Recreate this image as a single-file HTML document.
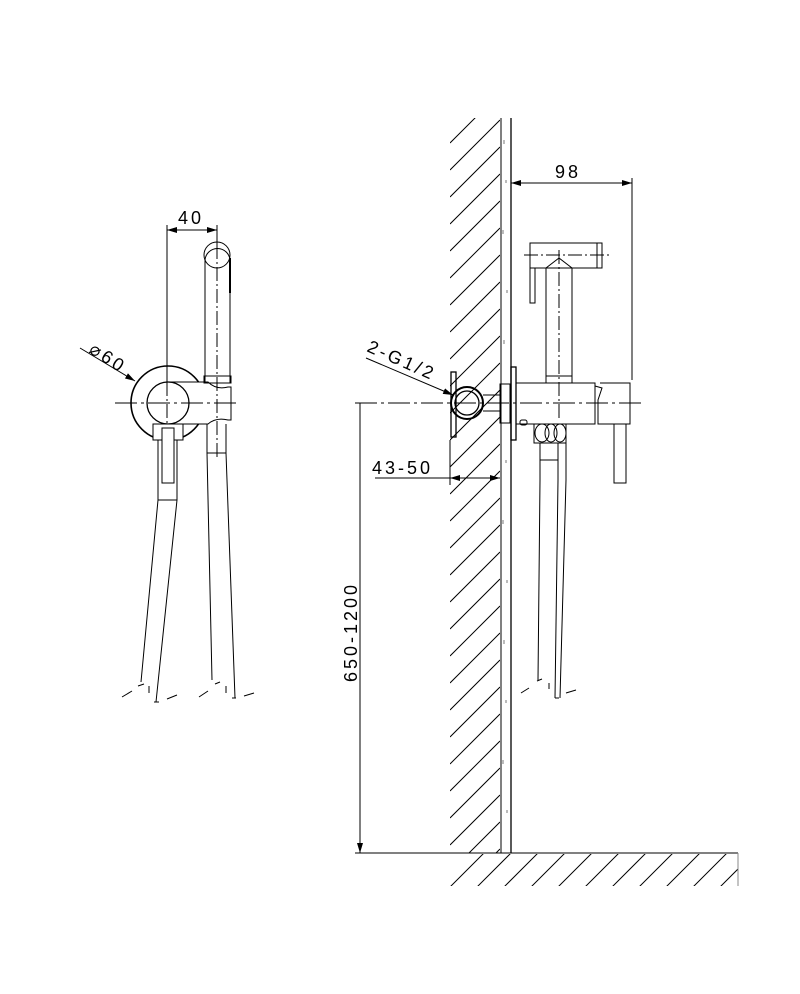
<!DOCTYPE html>
<html><head><meta charset="utf-8"><style>
html,body{margin:0;padding:0;background:#fff}
svg{display:block}
text{font-family:"Liberation Sans",sans-serif;font-size:18px;fill:#000;letter-spacing:3px}
</style></head><body>
<svg width="800" height="994" viewBox="0 0 800 994" xmlns="http://www.w3.org/2000/svg">
<defs>
<clipPath id="wallclip"><rect x="450" y="118" width="50" height="735"/></clipPath>
<clipPath id="floorclip"><rect x="450" y="854" width="288" height="32"/></clipPath>
<marker id="ar" markerWidth="10" markerHeight="6" refX="10" refY="3" orient="auto-start-reverse" markerUnits="userSpaceOnUse"><path d="M0,0 L10,3 L0,6 z" fill="#000"/></marker>
</defs>
<g fill="none" stroke="#000" stroke-width="1">
<g clip-path="url(#wallclip)">
<path d="M450,143 l50,-50 M450,170 l50,-50 M450,197 l50,-50 M450,224 l50,-50 M450,251 l50,-50 M450,278 l50,-50 M450,305 l50,-50 M450,332 l50,-50 M450,359 l50,-50 M450,386 l50,-50 M450,413 l50,-50 M450,440 l50,-50 M450,467 l50,-50 M450,494 l50,-50 M450,521 l50,-50 M450,548 l50,-50 M450,575 l50,-50 M450,602 l50,-50 M450,629 l50,-50 M450,656 l50,-50 M450,683 l50,-50 M450,710 l50,-50 M450,737 l50,-50 M450,764 l50,-50 M450,791 l50,-50 M450,818 l50,-50 M450,845 l50,-50 M450,872 l50,-50 M450,899 l50,-50"/>
</g>
<g clip-path="url(#floorclip)">
<path d="M450,887 l34,-34 M477,887 l34,-34 M504,887 l34,-34 M531,887 l34,-34 M558,887 l34,-34 M585,887 l34,-34 M612,887 l34,-34 M639,887 l34,-34 M666,887 l34,-34 M693,887 l34,-34 M720,887 l34,-34"/>
</g>
<line x1="501" y1="118" x2="501" y2="853"/>
<line x1="511" y1="118" x2="511" y2="853" stroke-width="1.3"/>
<path d="M504,140 v4 M506,180 v3 M503,230 v4 M507,290 v3 M504,340 v4 M506,460 v3 M503,520 v4 M507,580 v3 M504,640 v4 M506,700 v3 M503,760 v4 M507,810 v3" stroke="#777"/>
<line x1="355" y1="853" x2="738" y2="853"/>
<line x1="738" y1="853" x2="738" y2="886" stroke="#888"/>

<line x1="360" y1="403" x2="360" y2="853" marker-end="url(#ar)"/>
<line x1="355" y1="403" x2="645" y2="403" stroke-dasharray="22,4,3,4"/>
<line x1="375" y1="478" x2="450" y2="478"/>
<line x1="450" y1="478" x2="500" y2="478" marker-start="url(#ar)" marker-end="url(#ar)"/>
<line x1="450" y1="440" x2="450" y2="485"/>
<line x1="511" y1="183" x2="632" y2="183" marker-start="url(#ar)" marker-end="url(#ar)"/>
<line x1="632" y1="178" x2="632" y2="380"/>
<line x1="366" y1="358" x2="453" y2="395" marker-end="url(#ar)"/>

<rect x="451" y="372" width="5" height="65" stroke-width="1.3"/>
<circle cx="467" cy="403" r="16" stroke-width="2"/>
<circle cx="467" cy="403" r="12" stroke-width="1.3"/>
<path d="M483,395 h17 M483,411 h17"/>
<rect x="500" y="384" width="10" height="39"/>
<rect x="511" y="367" width="5" height="73" stroke-width="1.3"/>
<rect x="516" y="383" width="79" height="41"/>
<path d="M595,386 l7,2 l-4,12 v24 h32 v-41 h-30"/>
<rect x="614" y="424" width="12" height="59"/>
<rect x="520" y="420" width="7" height="5" rx="2"/>
<rect x="546" y="376" width="26" height="7"/>
<path d="M546,376 V268 l13,-10 l13,10 V376"/>
<rect x="530" y="243" width="72" height="25"/>
<rect x="597" y="243" width="5" height="25"/>
<rect x="530" y="268" width="5" height="35"/>
<line x1="559" y1="250" x2="559" y2="420" stroke-dasharray="14,3,2,3"/>
<line x1="524" y1="255" x2="612" y2="255" stroke-dasharray="14,3,2,3"/>
<path d="M534,424 h32 v19 h-32 z"/>
<ellipse cx="542" cy="433" rx="7" ry="9"/><ellipse cx="551" cy="433" rx="6" ry="9"/><ellipse cx="560" cy="433" rx="6" ry="9"/>
<path d="M540,443 V480 M558,443 V480 M566,443 V480 M540,460 h18"/>
<path d="M540,480 L538,680 M558,480 L555,698 M566,480 L560,698 M555,698 h4"/>
<path d="M521,693 l8,-5 M537,681 l5,-2 M549,683 v6 M566,693 l10,-3" />

<!-- left figure -->
<line x1="167" y1="225" x2="167" y2="450"/>
<line x1="217" y1="225" x2="217" y2="250"/>
<line x1="167" y1="230" x2="217" y2="230" marker-start="url(#ar)" marker-end="url(#ar)"/>
<line x1="80" y1="348" x2="135" y2="381" marker-end="url(#ar)"/>
<circle cx="168" cy="403" r="37" stroke-width="1.6"/>
<path d="M168,382 h40 q8,8 20,5 h3 v33 h-3 q-12,-3 -20,4 h-40" fill="#fff"/>
<circle cx="168" cy="403" r="21" stroke-width="1.3" fill="#fff"/>
<line x1="115" y1="403" x2="240" y2="403" stroke-dasharray="22,4,3,4"/>
<line x1="167" y1="360" x2="167" y2="450" stroke-dasharray="14,3,2,3"/>
<path d="M205,383 V261 A12.5,12.5 0 1 1 230,261 V383"/>
<circle cx="217" cy="255" r="13"/>
<path d="M230,258 v35" stroke-width="2"/>
<rect x="204" y="376" width="27" height="7"/>
<line x1="217" y1="245" x2="217" y2="460" stroke-dasharray="14,3,2,3"/>
<path d="M207,424 V453 M226,424 V453 M207,453 h19"/>
<path d="M207,453 L212,680 M226,453 L235,698 M232,698 h4"/>
<rect x="153" y="424" width="30" height="16" fill="#fff"/>
<rect x="162" y="428" width="12" height="55" fill="#fff"/>
<path d="M158,440 V500 M177,440 V500 M158,500 h19"/>
<path d="M158,500 L141,682 M177,500 L156,702 M154,702 h5"/>
<path d="M122,697 l10,-6 M138,686 l6,-2 M149,686 v7 M167,699 l10,-4 M199,697 l9,-6 M215,684 l5,-2 M226,686 v7 M244,696 l10,-3"/>
</g>

<text x="178" y="224">40</text>
<text x="555" y="178">98</text>
<text x="372" y="474">43-50</text>
<text transform="translate(357,682) rotate(-90)">650-1200</text>
<text transform="translate(88,352) rotate(33)">⌀60</text>
<text transform="translate(366,351) rotate(24)">2-G1/2</text>
</svg>
</body></html>
